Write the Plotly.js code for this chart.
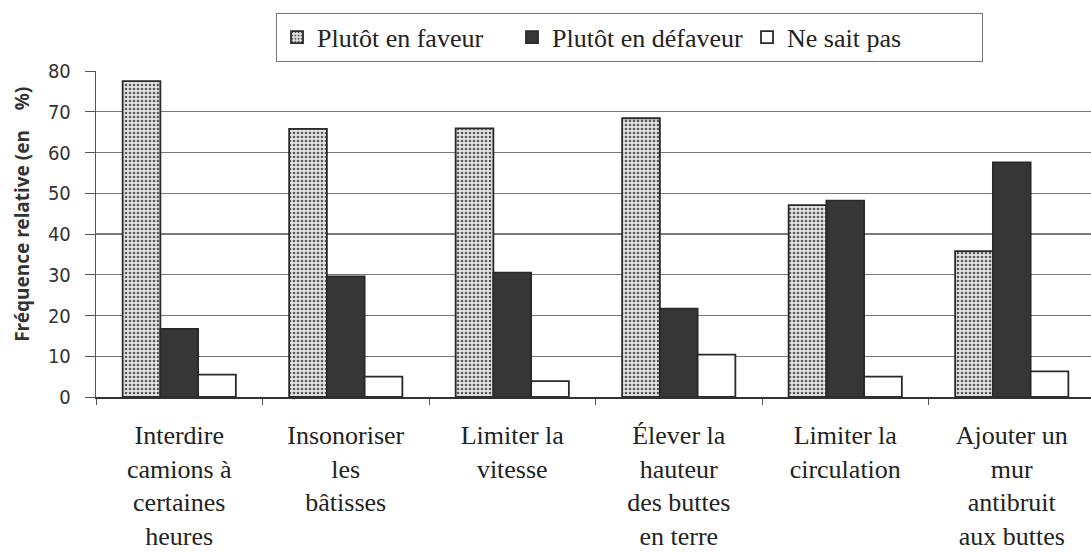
<!DOCTYPE html>
<html>
<head>
<meta charset="utf-8">
<script src="https://cdn.plot.ly/plotly-3.0.1.min.js"></script>
<style>html,body{margin:0;padding:0;background:#fff;}#chart{width:1091px;height:553px;}</style>
</head>
<body>
<div id="chart"></div>
<script>
const categories = [
  "Interdire<br>camions à<br>certaines<br>heures",
  "Insonoriser<br>les<br>bâtisses",
  "Limiter la<br>vitesse",
  "Élever la<br>hauteur<br>des buttes<br>en terre",
  "Limiter la<br>circulation",
  "Ajouter un<br>mur<br>antibruit<br>aux buttes"
];
const seriesNames = ["Plutôt en faveur", "Plutôt en défaveur", "Ne sait pas"];
const enFaveur   = [77.5, 65.8, 65.9, 68.4, 47.1, 35.8];
const enDefaveur = [16.7, 29.6, 30.5, 21.7, 48.2, 57.6];
const neSaitPas  = [5.5, 5.0, 3.9, 10.4, 5.0, 6.3];
const yTicks = [0, 10, 20, 30, 40, 50, 60, 70, 80];
const yTitle = "Fréquence relative (en\u00a0\u00a0\u00a0\u00a0%)";

const serif = "Liberation Serif, Times New Roman, serif";
const narrow = "Liberation Sans Narrow, DejaVu Sans Condensed, Arial Narrow, sans-serif";

const lineStyle = {color: "#2a2a2a", width: 1.8};
const traces = [
  {
    type: "bar", name: seriesNames[0], x: categories, y: enFaveur,
    marker: {color: "#e4e4e4", line: lineStyle,
      pattern: {shape: ".", fgcolor: "#5a5a5a", bgcolor: "#e4e4e4", size: 4, solidity: 0.35}}
  },
  {
    type: "bar", name: seriesNames[1], x: categories, y: enDefaveur,
    marker: {color: "#363636", line: lineStyle}
  },
  {
    type: "bar", name: seriesNames[2], x: categories, y: neSaitPas,
    marker: {color: "#ffffff", line: lineStyle}
  }
];

const layout = {
  width: 1091, height: 553,
  margin: {l: 96, r: 0, t: 71, b: 156},
  paper_bgcolor: "#ffffff", plot_bgcolor: "#ffffff",
  barmode: "group", bargap: 0.32, bargroupgap: 0,
  showlegend: true,
  legend: {
    orientation: "h", xref: "container", yref: "container",
    x: 0.253, xanchor: "left", y: 0.977, yanchor: "top",
    bordercolor: "#777", borderwidth: 1, bgcolor: "#fff",
    font: {family: serif, size: 26, color: "#222"},
    itemwidth: 30, entrywidth: 190, entrywidthmode: "pixels", traceorder: "normal"
  },
  xaxis: {
    type: "category", range: [-0.5, 5.476],
    showline: true, linecolor: "#333", linewidth: 1.5,
    ticks: "outside", tickson: "boundaries", ticklen: 6, tickcolor: "#555",
    showgrid: false, zeroline: false,
    tickfont: {family: serif, size: 26, color: "#222"},
    ticklabelstandoff: 14, tickangle: 0
  },
  yaxis: {
    range: [0, 80], tickvals: yTicks, ticktext: yTicks.map(String),
    showline: true, linecolor: "#555", linewidth: 1.2,
    ticks: "outside", ticklen: 10, tickcolor: "#555",
    showgrid: true, gridcolor: "#7a7a7a", gridwidth: 1.3,
    zeroline: false,
    tickfont: {family: narrow, size: 20, color: "#333"},
    ticklabelstandoff: 10
  },
  annotations: [{
    text: yTitle, textangle: -90, showarrow: false,
    xref: "paper", yref: "paper", x: -0.074, y: 0.56,
    xanchor: "center", yanchor: "middle",
    font: {family: "Noto Sans, DejaVu Sans, sans-serif", size: 19, color: "#333", weight: "bold"}
  }]
};

Plotly.newPlot("chart", traces, layout, {staticPlot: true, displayModeBar: false});
</script>
</body>
</html>
